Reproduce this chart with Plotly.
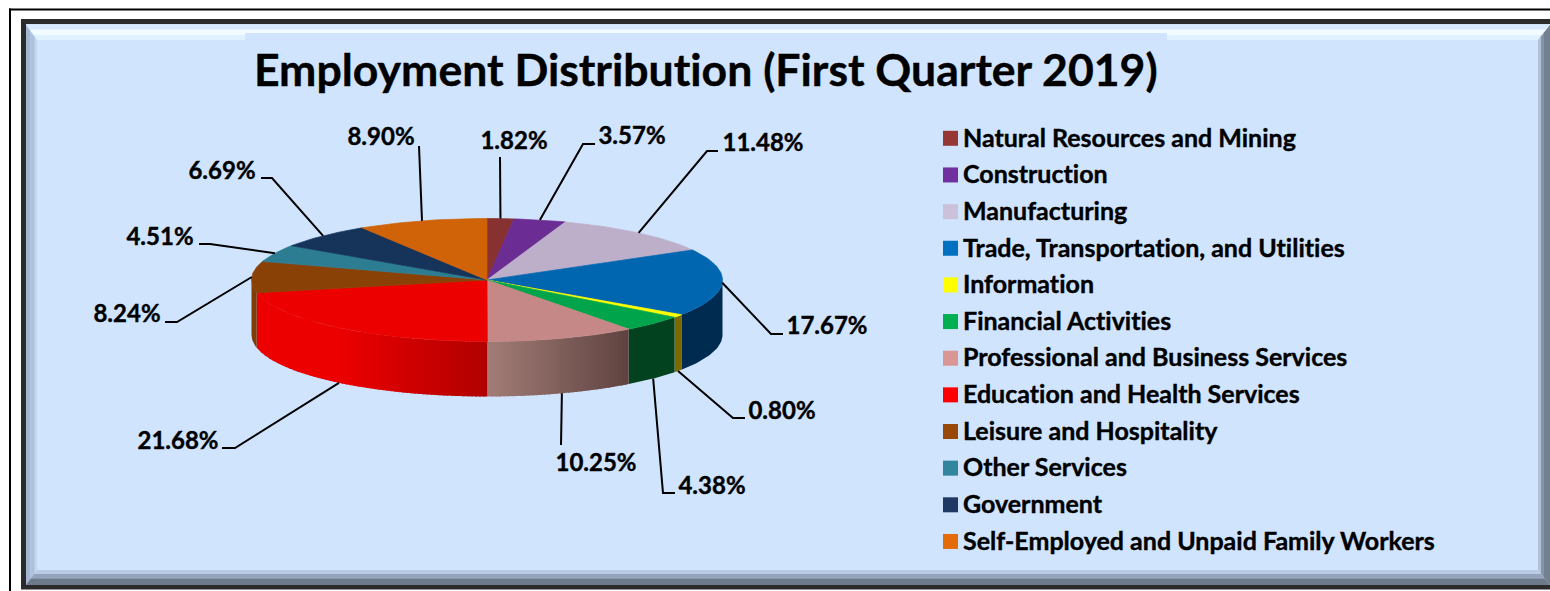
import math
import plotly.graph_objects as go

# ---------- data ----------
categories = ["Natural Resources and Mining", "Construction", "Manufacturing",
              "Trade, Transportation, and Utilities", "Information", "Financial Activities",
              "Professional and Business Services", "Education and Health Services",
              "Leisure and Hospitality", "Other Services", "Government",
              "Self-Employed and Unpaid Family Workers"]
shares = [1.82, 3.57, 11.48, 17.67, 0.80, 4.38, 10.25, 21.68, 8.24, 4.51, 6.69, 8.90]
title_text = "Employment Distribution (First Quarter 2019)"

# ---------- styles ----------
legend_colors = ["#953735", "#7030a0", "#ccc1da", "#0070c0", "#ffff00", "#00b050",
                 "#d99694", "#ff0000", "#984807", "#31859c", "#1f3864", "#e36c09"]
top_colors = ["#883131", "#6b2d94", "#bdafc9", "#0066b0", "#ffff00", "#00a44a",
              "#c58887", "#ec0000", "#8a4106", "#2d7d92", "#16335a", "#d06207"]
side_left = ["#883131", "#6b2d94", "#bdafc9", "#002b50", "#7a6a00", "#03421f",
             "#a27c76", "#ec0000", "#7d3d08", "#2d7d92", "#16335a", "#d06207"]
side_right = ["#883131", "#6b2d94", "#bdafc9", "#002b50", "#7a6a00", "#03421f",
              "#5e423f", "#b00000", "#7d3d08", "#2d7d92", "#16335a", "#d06207"]
FONT = "Lato"
LABEL_SIZE = 24
TITLE_SIZE = 44.55
LEGEND_SIZE = 25

# ---------- geometry (pixels of the 1550x591 canvas) ----------
CX, CY, RX, RY, DEPTH = 487.0, 280.0, 235.5, 61.5, 55.0
# leader path after the slice edge: elbow / end points, and label centres
leader_tails = [[(500, 157)], [(583, 144), (595, 144)], [(707, 151), (718, 151)],
                [(771, 334), (783, 334)], [(733, 418), (745, 418)], [(663, 493), (675, 493)],
                [(561, 445)], [(235, 448), (222, 448)], [(177, 322), (165, 322)],
                [(210, 244), (199, 244)], [(272, 178), (261, 178)], [(419, 146)]]
label_pos = [(514, 143), (632, 138), (763, 145), (827, 328), (782, 413), (712, 488),
             (596, 465), (178, 443), (127, 316), (160, 239), (222, 173), (381, 139)]


def hex_rgb(c):
    return [int(c[i:i + 2], 16) for i in (1, 3, 5)]


def mix(a, b, f):
    ca, cb = hex_rgb(a), hex_rgb(b)
    return "rgb(%d,%d,%d)" % tuple(round(x + (y - x) * f) for x, y in zip(ca, cb))


def edge(t, dy=0.0):
    return CX + RX * math.sin(t), CY - RY * math.cos(t) + dy


total = sum(shares)
bounds = [0.0]
for v in shares:
    bounds.append(bounds[-1] + v / total * 2 * math.pi)

fig = go.Figure()


def poly(xs, ys, color, lw=0.7):
    fig.add_trace(go.Scatter(x=xs, y=ys, mode="lines", fill="toself", fillcolor=color,
                             line=dict(color=color, width=lw), hoverinfo="skip",
                             showlegend=False))


# side wall (front half only), strips of equal screen width so the shading can vary
for i, v in enumerate(shares):
    a = max(bounds[i], math.pi / 2)
    b = min(bounds[i + 1], 3 * math.pi / 2)
    if a >= b:
        continue
    xr, xl = CX + RX * math.sin(a), CX + RX * math.sin(b)
    shaded = side_left[i] != side_right[i]
    n = max(1, int((xr - xl) / 4)) if shaded else 1
    for k in range(n):
        # walk from the slice's right end leftwards; each strip overlaps the previous one
        x0 = xr - (xr - xl) * k / n + (1.5 if k else 0)
        x1 = xr - (xr - xl) * (k + 1) / n
        if shaded:
            t0 = math.pi - math.asin(max(-1, min(1, (x0 - CX) / RX)))
            t1 = math.pi - math.asin(max(-1, min(1, (x1 - CX) / RX)))
            m = 6
        else:
            t0, t1, m = a, b, 30
        ts = [t0 + (t1 - t0) * j / m for j in range(m + 1)]
        up = [edge(t) for t in ts]
        lo = [edge(t, DEPTH) for t in reversed(ts)]
        xs = [p[0] for p in up + lo]
        ys = [p[1] for p in up + lo]
        f = 1 - (k + 0.5) / n
        if i == 7:  # education stays bright on the far left
            f = max(0.0, (f - 0.35) / 0.65)
        poly(xs + xs[:1], ys + ys[:1], mix(side_left[i], side_right[i], f), lw=0)

# top face
for i, v in enumerate(shares):
    a, b = bounds[i], bounds[i + 1]
    m = max(2, int((b - a) / 0.02))
    pts = [edge(a + (b - a) * j / m) for j in range(m + 1)]
    poly([CX] + [p[0] for p in pts] + [CX], [CY] + [p[1] for p in pts] + [CY], top_colors[i])

# leader lines: start on the slice's outer edge at its mid angle
for i, v in enumerate(shares):
    mid = (bounds[i] + bounds[i + 1]) / 2
    front = math.pi / 2 + 0.1 < mid < 3 * math.pi / 2 - 0.1
    sx, sy = edge(mid, DEPTH if front else 0.0)
    path = [(sx, sy)] + leader_tails[i]
    fig.add_trace(go.Scatter(x=[p[0] for p in path], y=[p[1] for p in path], mode="lines",
                             line=dict(color="black", width=2), hoverinfo="skip",
                             showlegend=False))

# data labels
fig.add_trace(go.Scatter(x=[p[0] for p in label_pos], y=[p[1] for p in label_pos], mode="text",
                         text=[f"{v:.2f}%" for v in shares], textposition="middle center",
                         textfont=dict(family=FONT, size=LABEL_SIZE, color="black", weight=700),
                         hoverinfo="skip", showlegend=False))

# legend column
ly = [138.3 + 36.65 * i for i in range(len(categories))]
fig.add_trace(go.Scatter(x=[950.5] * len(categories), y=ly, mode="markers",
                         marker=dict(symbol="square", size=15, color=legend_colors),
                         hoverinfo="skip", showlegend=False))
fig.add_trace(go.Scatter(x=[963] * len(categories), y=[v + 2 for v in ly], mode="text", text=categories,
                         textposition="middle right",
                         textfont=dict(family=FONT, size=LEGEND_SIZE, color="black", weight=700),
                         hoverinfo="skip", showlegend=False))

# ---------- frame ----------
shapes = []


def rect(x0, y0, x1, y1, color):
    shapes.append(dict(type="rect", xref="x", yref="y", x0=x0, y0=y0, x1=x1, y1=y1,
                       fillcolor=color, line=dict(width=0), layer="below"))


def quad(pts, color):
    d = "M " + " L ".join(f"{x},{y}" for x, y in pts) + " Z"
    shapes.append(dict(type="path", xref="x", yref="y", path=d, fillcolor=color,
                       line=dict(width=0), layer="below"))


OUT = (26, 25, 1550, 585)
INN = (37, 40, 1538, 570)
MAIN = "#d0e4fe"


def at(f):
    return [OUT[j] + (INN[j] - OUT[j]) * f for j in range(4)]


rect(9, 8.5, 1550, 10.5, "black")
rect(9, 8.5, 11, 591, "black")
rect(21, 19, 1550, 589.5, "#2b2b2b")
rect(26, 24, 1550, 585, MAIN)

top_bands = [(0, .3, "#d8ebfe"), (.3, .7, "#f2fbff"), (.7, 1, "#e0f1ff")]
left_bands = [(0, .4, "#a2b5d1"), (.4, .8, "#adc1dd"), (.8, 1, "#c3d7f2")]
right_bands = [(0, .5, "#72808f"), (.5, .75, "#8494a8"), (.75, 1, "#b0c0d8")]
bottom_bands = [(0, .45, "#6d7a8b"), (.45, .75, "#93a4bc"), (.75, 1, "#b9cbe4")]
for f0, f1, c in top_bands:
    a, b = at(f0), at(f1)
    quad([(a[0], a[1]), (a[2], a[1]), (b[2], b[1]), (b[0], b[1])], c)
for f0, f1, c in left_bands:
    a, b = at(f0), at(f1)
    quad([(a[0], a[1]), (b[0], b[1]), (b[0], b[3]), (a[0], a[3])], c)
for f0, f1, c in right_bands:
    a, b = at(f0), at(f1)
    quad([(a[2], a[1]), (b[2], b[1]), (b[2], b[3]), (a[2], a[3])], c)
for f0, f1, c in bottom_bands:
    a, b = at(f0), at(f1)
    quad([(a[0], a[3]), (a[2], a[3]), (b[2], b[3]), (b[0], b[3])], c)
rect(245, 33, 1167, 41, MAIN)

fig.update_layout(
    width=1550, height=591, margin=dict(l=0, r=0, t=0, b=0),
    paper_bgcolor="white", plot_bgcolor="white", showlegend=False, shapes=shapes,
    xaxis=dict(range=[0, 1550], visible=False, fixedrange=True),
    yaxis=dict(range=[591, 0], visible=False, fixedrange=True),
    title=dict(text=title_text, x=254 / 1550, xanchor="left", xref="paper",
               y=1 - 70 / 591, yanchor="middle", yref="paper",
               font=dict(family=FONT, size=TITLE_SIZE, color="black", weight=700)),
)
fig.write_html("out.html", config={"displayModeBar": False},
               post_script="document.body.style.margin='0';document.body.style.overflow='hidden';"
                           "var s=document.createElement('style');"
                           "s.textContent='text{font-variant-ligatures:none !important;"
                           "stroke:#000;stroke-width:0.4px;}';"
                           "document.head.appendChild(s);")
